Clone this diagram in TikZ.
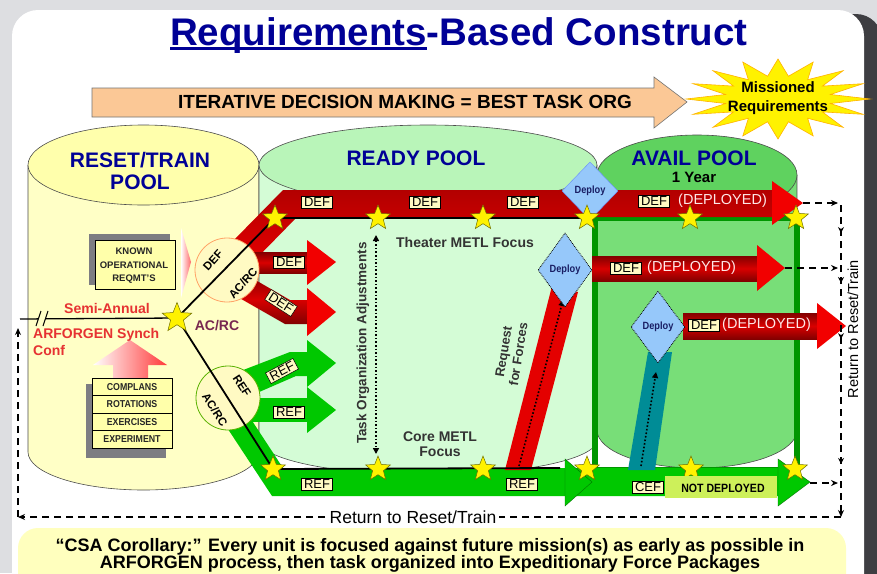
\documentclass[tikz,border=0pt]{standalone}
\usepackage{fontspec}
\setmainfont{Liberation Sans}
\newfontfamily\narrowfont[FakeStretch=0.88]{Liberation Sans}
\usetikzlibrary{shapes.geometric,arrows.meta,decorations.markings}
\definecolor{bgray}{RGB}{221,222,225}
\definecolor{shadowc}{RGB}{62,62,66}
\definecolor{titleblue}{RGB}{0,0,150}
\definecolor{peach}{RGB}{251,200,150}
\definecolor{resettop}{RGB}{255,255,172}
\definecolor{resetbody}{RGB}{255,255,198}
\definecolor{readytop}{RGB}{185,245,185}
\definecolor{readybody}{RGB}{212,252,214}
\definecolor{availtop}{RGB}{95,210,95}
\definecolor{availbody}{RGB}{120,222,120}
\definecolor{framegreen}{RGB}{0,150,0}
\definecolor{bandgreen}{RGB}{0,200,0}
\definecolor{bandred}{RGB}{228,0,0}
\definecolor{darkred}{RGB}{130,0,0}
\definecolor{lblfill}{RGB}{255,250,195}
\definecolor{diamondblue}{RGB}{150,200,250}
\definecolor{tealc}{RGB}{0,140,150}
\definecolor{noteyellow}{RGB}{255,255,190}
\definecolor{semired}{RGB}{230,50,50}
\definecolor{acrcpurple}{RGB}{120,40,80}
\definecolor{starline}{RGB}{110,110,0}
\definecolor{notdep}{RGB}{205,240,90}
\definecolor{boxyellow}{RGB}{255,255,170}
\definecolor{shadowgray}{RGB}{125,125,130}
\definecolor{deptext}{RGB}{255,232,232}
\definecolor{navy}{RGB}{25,30,100}
\begin{document}
\begin{tikzpicture}[x=1pt,y=-1pt,
  cyl/.style={draw=black!70, line width=0.6pt},
  starn/.style={star, star points=5, star point ratio=2.3, minimum size=26pt, inner sep=0pt, fill=yellow, draw=starline, line width=0.5pt},
  lbl/.style={fill=lblfill, draw=black, line width=0.5pt, inner xsep=2.5pt, inner ysep=1.5pt, font=\fontsize{13}{13}\selectfont},
  dep/.style={text=deptext, font=\fontsize{14.5}{14.5}\selectfont, inner sep=0pt},
  pooltitle/.style={text=titleblue, font=\bfseries\fontsize{21}{23}\selectfont, align=center},
  deploy/.style={diamond, fill=diamondblue, inner sep=0pt, font=\narrowfont\bfseries\fontsize{10.5}{10}\selectfont, text=navy},
  circ/.style={circle, fill=lblfill, minimum size=64pt, inner sep=0pt, line width=0.8pt},
  ctext/.style={font=\bfseries\fontsize{11.5}{11.5}\selectfont, inner sep=0pt},
  dashln/.style={dash pattern=on 7pt off 5pt, line width=1.3pt},
  blk/.style={line width=1.8pt, black},
  plain/.style={font=\bfseries\fontsize{14}{15}\selectfont, text=black!80, align=center, inner sep=0pt},
  tiny/.style={font=\bfseries\fontsize{9.5}{13.5}\selectfont, text=black!85, align=center, inner sep=0pt},
  redarrow/.style={top color=darkred, bottom color=darkred, middle color=red!85!black},
  headred/.style={fill=red!95!black},
  headgreen/.style={fill=bandgreen, draw=green!45!black, line width=0.4pt}
]
\useasboundingbox (0,0) rectangle (877,573);
\clip (0,0) rectangle (877,573);
% background card
\fill[bgray] (0,0) rectangle (877,573);
\fill[shadowc, rounded corners=26pt] (30,14) rectangle (882,610);
\fill[white, rounded corners=26pt] (12,10) rectangle (864,610);
% title
\node[anchor=base, text=titleblue, font=\bfseries\fontsize{38.5}{40}\selectfont, inner sep=0pt] (title) at (459,45)
  {\setbox0\hbox{Requirements}\rlap{\vrule width\wd0 height -2pt depth 5pt}\box0-Based Construct};
% iterative arrow
\filldraw[fill=peach, draw=black!55, line width=0.6pt] (92,88) -- (654,88) -- (654,77) -- (687,102) -- (654,128) -- (654,117) -- (92,117) -- cycle;
\node[font=\bfseries\fontsize{19}{19}\selectfont, inner sep=0pt] (iter) at (405,102) {ITERATIVE DECISION MAKING = BEST TASK ORG};
% starburst
\filldraw[fill=yellow, draw=orange!60!yellow, line width=0.6pt] plot[samples at={0,...,31}, variable=\k] ({778+92*(1-0.42*mod(\k,2))*cos(\k*11.25)}, {99+40*(1-0.42*mod(\k,2))*sin(\k*11.25)}) -- cycle;
\node[font=\bfseries\fontsize{15}{19}\selectfont, align=center, inner sep=0pt] (miss) at (778,98) {Missioned\\Requirements};
% reset cylinder
\fill[resetbody] (28,165) rectangle (259,452);
\fill[resetbody] (143.5,452) ellipse[x radius=115.5, y radius=38];
\draw[cyl] (28,165) -- (28,452) arc[start angle=180, end angle=0, x radius=115.5, y radius=38] -- (259,165);
\filldraw[fill=resettop, cyl] (143.5,165) ellipse[x radius=115.5, y radius=40];
% ready cylinder
\fill[readybody] (259,165) rectangle (597,440);
\fill[readybody] (428,440) ellipse[x radius=169, y radius=35];
\draw[cyl] (259,165) -- (259,440) arc[start angle=180, end angle=0, x radius=169, y radius=35] -- (597,165);
\filldraw[fill=readytop, cyl] (428,165) ellipse[x radius=169, y radius=40];
% avail cylinder
\fill[availbody] (597,175) rectangle (797,430);
\fill[availbody] (697,430) ellipse[x radius=100, y radius=38];
\draw[cyl] (597,175) -- (597,430) arc[start angle=180, end angle=0, x radius=100, y radius=38] -- (797,175);
\filldraw[fill=availtop, cyl] (697,175) ellipse[x radius=100, y radius=40];
\fill[availbody] (600,221) rectangle (794,430);
% pool titles
\node[pooltitle] (rtp) at (140,171) {RESET/TRAIN\\[-1pt]POOL};
\node[pooltitle] (rdp) at (416,158) {READY POOL};
\node[pooltitle] (avp) at (694,158) {AVAIL POOL};
\node[font=\bfseries\fontsize{15}{15}\selectfont, inner sep=0pt] (yr) at (694,177) {1 Year};
% avail frame
\draw[framegreen, line width=6pt] (595,218) rectangle (797,470);
% top red band
\shade[top color=red!70!black, bottom color=bandred] (233,241) -- (283,190) -- (776,190) -- (776,217) -- (297,217) -- (252,263) -- cycle;
\fill[headred] (772,181) -- (803,203) -- (772,225) -- cycle;
% bottom green band
\fill[bandgreen] (222,420) -- (245,410) -- (283,468) -- (780,468) -- (780,496) -- (272,496) -- cycle;
\filldraw[headgreen] (565,459) -- (592,482) -- (565,506) -- cycle;
\filldraw[headgreen] (778,459) -- (810,482) -- (778,506) -- cycle;
% DEF arrows from circle
\shade[redarrow] (250,252) rectangle (308,273);
\fill[headred] (307,240) -- (336,262) -- (307,285) -- cycle;
\shade[redarrow] (245,274) -- (290,300) -- (308,300) -- (308,324) -- (285,324) -- (236,296) -- cycle;
\fill[headred] (307,288) -- (336,312) -- (307,336) -- cycle;
% REF arrows from circle
\fill[bandgreen] (238,372) -- (290,352) -- (308,352) -- (308,376) -- (296,376) -- (250,396) -- cycle;
\fill[bandgreen] (307,340) -- (336,363) -- (307,387) -- cycle;
\fill[bandgreen] (252,398) rectangle (308,422);
\fill[bandgreen] (307,387) -- (336,410) -- (307,433) -- cycle;
% request for forces band and teal band
\fill[bandred] (505,470) -- (531,470) -- (578,292) -- (552,286) -- cycle;
\fill[tealc] (628,470) -- (655,470) -- (672,352) -- (648,352) -- cycle;
% avail DEF (DEPLOYED) arrows
\shade[redarrow] (592,256) rectangle (758,281);
\fill[headred] (757,245) -- (785,268) -- (757,291) -- cycle;
\shade[redarrow] (683,313) rectangle (818,339);
\fill[headred] (817,303) -- (846,326) -- (817,349) -- cycle;
% coordinates
\coordinate (acrcpt) at (177,318);
\coordinate (t1) at (275,218); \coordinate (t2) at (378,218); \coordinate (t3) at (483,218);
\coordinate (t4) at (587,218); \coordinate (t5) at (690,218); \coordinate (t6) at (796,218);
\coordinate (b1) at (273,469); \coordinate (b2) at (378,469); \coordinate (b3) at (483,469);
\coordinate (b4) at (587,469); \coordinate (b5) at (691,469); \coordinate (b6) at (795,469);
\coordinate (bend) at (560,468);
\coordinate (tipA) at (803,203); \coordinate (tipB) at (785,268); \coordinate (tipC) at (810,483);
\coordinate (rA) at (838,203); \coordinate (rB) at (838,268); \coordinate (rC) at (838,483);
\coordinate (rtop) at (841,205); \coordinate (rbot) at (841,517);
\coordinate (lbot) at (18,517); \coordinate (ltop) at (18,328);
\coordinate (lstart) at (20,319);
\coordinate (taskT) at (376,235); \coordinate (taskB) at (376,454);
\coordinate (reqB) at (519,466); \coordinate (reqT) at (563,300);
\coordinate (cefB) at (641,466); \coordinate (cefT) at (656,372);
% circles
\node[circ, draw=orange!80!red!60] (defc) at (227,270) {};
\node[circ, draw=green!50!yellow!70!black] (refc) at (228,398) {};
% black lines
\draw[blk] (acrcpt) -- (t1) -- (t4);
\draw[blk] (acrcpt) -- (b1) -- (bend);
\draw[line width=1.3pt] (lstart) -- (acrcpt);
\fill[resetbody] (38,312) rectangle (45,325);
\draw[line width=1pt] (36,326) -- (41,311) (43,326) -- (48,311);
% circle texts
\node[ctext, rotate=48] (defct) at (213,260) {DEF};
\node[ctext, rotate=48] (defca) at (243,283) {AC/RC};
\node[ctext, rotate=-57] (refct) at (242,386) {REF};
\node[ctext, rotate=-57] (refca) at (215,410) {AC/RC};
% dotted arrows
\draw[dotted, line width=1.6pt, {Triangle[length=6pt,width=6pt]}-{Triangle[length=6pt,width=6pt]}] (taskT) -- (taskB);
\draw[dotted, line width=1.6pt, -{Triangle[length=6pt,width=6pt]}] (reqB) -- (reqT);
\draw[dotted, line width=1.6pt, -{Triangle[length=6pt,width=6pt]}] (cefB) -- (cefT);
% diamonds
\node[deploy, minimum width=56pt, minimum height=58pt, draw=blue!30!diamondblue, line width=0.4pt] (dep1) at (590,191) {Deploy};
\node[deploy, minimum width=54pt, minimum height=74pt, draw=black, densely dotted, line width=0.8pt] (dep2) at (565,270) {Deploy};
\node[deploy, minimum width=54pt, minimum height=72pt, draw=black, densely dotted, line width=0.8pt] (dep3) at (658,327) {Deploy};
% stars
\foreach \s in {t1,t2,t3,t4,t5,t6,b1,b2,b3,b4,b5,b6} {\node[starn] (st\s) at (\s) {};}
\node[starn, minimum size=31pt] (stacrc) at (acrcpt) {};
% labels on bands
\node[lbl] (d1) at (317,202) {DEF};
\node[lbl] (d2) at (425,202) {DEF};
\node[lbl] (d3) at (523,202) {DEF};
\node[lbl] (d4) at (654,201) {DEF};
\node[dep, anchor=west] (dp1) at (678,201) {(DEPLOYED)};
\node[lbl] (d5) at (289,262) {DEF};
\node[lbl, rotate=-33] (d6) at (281,303) {DEF};
\node[lbl, rotate=28] (r1) at (282,371) {REF};
\node[lbl] (r2) at (289,412) {REF};
\node[lbl] (d7) at (626,268) {DEF};
\node[dep, anchor=west] (dp2) at (647,268) {(DEPLOYED)};
\node[lbl] (d8) at (704,325) {DEF};
\node[dep, anchor=west] (dp3) at (722,325) {(DEPLOYED)};
\node[lbl] (r3) at (317,484) {REF};
\node[lbl] (r4) at (522,484) {REF};
\node[fill=notdep, minimum width=112pt, minimum height=22pt, inner sep=0pt] (ndbox) at (721,487) {};
\node[font=\narrowfont\bfseries\fontsize{12}{12}\selectfont, inner sep=0pt] (nd) at (723,488) {NOT DEPLOYED};
\node[lbl] (c1) at (648,487) {CEF};
% dashed return lines
\draw[dashln, -{Stealth[length=7pt,width=6pt]}] (tipA) -- (rA);
\draw[dashln, -{Stealth[length=7pt,width=6pt]}] (tipB) -- (rB);
\draw[dashln, -{Stealth[length=7pt,width=6pt]}] (tipC) -- (rC);
\draw[dashln, decoration={markings,
   mark=at position 0.09 with {\arrow{Stealth[length=6pt,width=6pt]}},
   mark=at position 0.25 with {\arrow{Stealth[length=6pt,width=6pt]}},
   mark=at position 0.43 with {\arrow{Stealth[length=6pt,width=6pt]}},
   mark=at position 0.83 with {\arrow{Stealth[length=6pt,width=6pt]}}}, postaction={decorate},
   -{Stealth[length=7pt,width=6pt]}] (rtop) -- (rbot);
\draw[dashln, -{Stealth[length=7pt,width=6pt]}] (rbot) -- (lbot);
\draw[dashln, -{Stealth[length=7pt,width=6pt]}] (lbot) -- (ltop);
\node[fill=white, font=\fontsize{17.5}{17.5}\selectfont, inner xsep=3pt, inner ysep=0pt] (ret1) at (413,517) {Return to Reset/Train};
\node[fill=white, rotate=90, font=\fontsize{14.5}{14.5}\selectfont, inner xsep=2pt, inner ysep=0pt] (ret2) at (853,329) {Return to Reset/Train};
% left pool contents
\fill[shadowgray] (89,234) rectangle (170,285);
\filldraw[fill=boxyellow, draw=black, line width=0.5pt] (95,240) rectangle (175,289);
\node[tiny] (known) at (134,266) {KNOWN\\OPERATIONAL\\REQMT'S};
\shade[left color=white, right color=red!45!pink] (181,228) -- (191,262) -- (181,298) -- cycle;
\shade[left color=white, right color=red!70!pink] (113,382) -- (113,365) -- (93,365) -- (130,340) -- (167,365) -- (148,365) -- (148,382) -- cycle;
\fill[shadowgray] (86,384) rectangle (166,458);
\foreach \i/\t in {0/COMPLANS,1/ROTATIONS,2/EXERCISES,3/EXPERIMENT} {
  \filldraw[fill=boxyellow, draw=black, line width=0.5pt] (92,378+17.5*\i) rectangle (172,395.5+17.5*\i);
  \node[font=\narrowfont\bfseries\fontsize{10}{10}\selectfont, text=black!85, inner sep=0pt] (lst\i) at (132,386.75+17.5*\i) {\t};
}
\node[font=\bfseries\fontsize{14}{14}\selectfont, text=semired, inner sep=0pt] (semi) at (107,308) {Semi-Annual};
\node[font=\bfseries\fontsize{14}{17}\selectfont, text=semired, align=left, anchor=north west, inner sep=0pt] (synch) at (33,328) {ARFORGEN Synch\\Conf};
\node[font=\bfseries\fontsize{14}{14}\selectfont, text=acrcpurple, inner sep=0pt] (acrclbl) at (217,326) {AC/RC};
% ready pool texts
\node[plain] (theater) at (465,242) {Theater METL Focus};
\node[plain] (core) at (440,444) {Core METL\\Focus};
\node[plain, rotate=90, font=\bfseries\fontsize{13.5}{14}\selectfont] (taskorg) at (363,343) {Task Organization Adjustments};
\node[plain, rotate=81, font=\bfseries\fontsize{13}{15}\selectfont] (reqf) at (511,353) {Request\\for Forces};
% note
\fill[noteyellow, rounded corners=20pt] (18,528) rectangle (846,600);
\node[font=\bfseries\fontsize{18}{18}\selectfont, inner sep=0pt, anchor=base] (note1) at (430,551.5)
  {“CSA Corollary:” Every unit is focused against future mission(s) as early as possible in};
\node[font=\bfseries\fontsize{18}{18}\selectfont, inner sep=0pt, anchor=base] (note2) at (430,568)
  {ARFORGEN process, then task organized into Expeditionary Force Packages};
\end{tikzpicture}
\end{document}
